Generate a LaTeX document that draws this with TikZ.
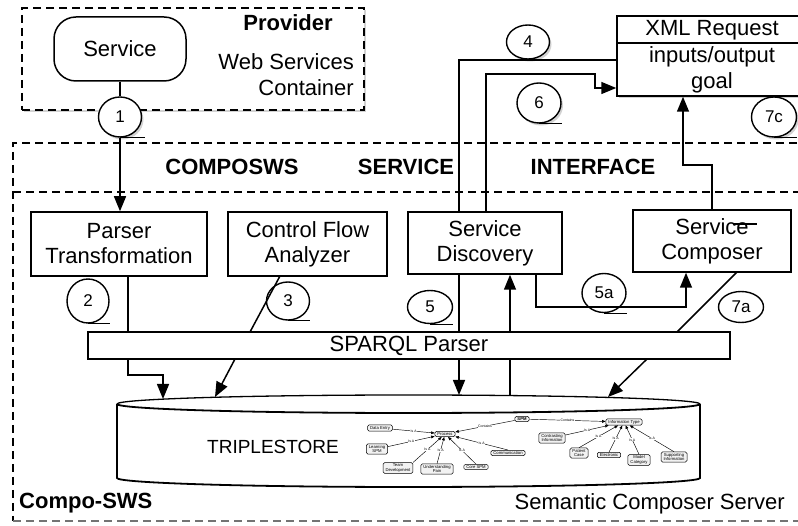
\documentclass[tikz,border=0pt]{standalone}
\usepackage{fontspec}
\setmainfont{Liberation Sans}
\usetikzlibrary{arrows.meta,shapes.geometric,shadows}
\tikzset{
 conline/.style={line width=1.5pt},
 arr/.style={conline, -{Triangle[length=15pt,width=12pt]}},
 box/.style={draw, line width=1.5pt, fill=white, inner sep=0pt, align=center, font=\fontsize{22}{25}\selectfont},
 num/.style={draw, ellipse, line width=1.4pt, fill=white, inner sep=0pt, font=\fontsize{17}{17}\selectfont},
 shad/.style={drop shadow={shadow xshift=2pt, shadow yshift=-2.5pt, opacity=0.35}},
 ctail/.style={line width=1.2pt},
 lbl/.style={font=\fontsize{22}{25}\selectfont, inner sep=0pt},
 blbl/.style={font=\fontsize{22}{25}\selectfont\bfseries, inner sep=0pt},
 dsh/.style={line width=1.4pt, dash pattern=on 8pt off 5pt},
 mini/.style={draw, rounded corners=1.5pt, fill=gray!10, line width=0.5pt, inner xsep=2.5pt, inner ysep=1.2pt, align=center, font=\fontsize{4.2}{4.6}\selectfont},
 minie/.style={line width=0.45pt, -{Triangle[length=3.5pt,width=2.8pt]}},
 minil/.style={font=\fontsize{3.5}{4}\selectfont, fill=white, inner sep=0.4pt},
}
\begin{document}
\begin{tikzpicture}[x=1pt,y=1pt]
\useasboundingbox (0,0) rectangle (798,-526);
\clip (0,0) rectangle (798,-526);
\fill[white] (0,0) rectangle (798,-526);

% outer Compo-SWS box
\draw[dsh] (810,-143) -- (13,-143) -- (13,-521);
\draw[dsh, black!55] (13,-521) -- (810,-521);
\draw[dsh] (13,-192) -- (810,-192);
\node[blbl] (tc) at (232,-167) {COMPOSWS};
\node[blbl] (ts) at (406,-167) {SERVICE};
\node[blbl] (ti) at (593,-167) {INTERFACE};
\node[blbl, anchor=west] (cs) at (19,-503) {Compo-SWS};
\node[lbl, anchor=east] (scs) at (785,-504) {Semantic Composer Server};

% provider
\node[draw, dsh, fill=white, shad, minimum width=342pt, minimum height=102pt, inner sep=0pt] (prov) at (193,-59) {};
\node[box, rounded corners=22pt, minimum width=132pt, minimum height=64pt] (svc) at (120,-49) {Service};
\node[blbl] (provl) at (288,-23) {Provider};
\node[lbl, anchor=east] (ws1) at (354,-62) {Web Services};
\node[lbl, anchor=east] (ws2) at (354,-88) {Container};

% XML request
\node[box, shad, minimum width=190pt, minimum height=80pt] (xml) at (712,-56) {};
\coordinate (xd) at (617,-43);
\draw[conline] (xd) -- (xd -| xml.east);
\node[lbl] (x1) at (712,-30) {XML Request};
\node[lbl] (x2) at (712,-57) {inputs/output};
\node[lbl] (x3) at (712,-83) {goal};

% component boxes
\node[box, minimum width=176pt, minimum height=64pt] (pt) at (119,-244) {Parser\\Transformation};
\node[box, minimum width=159pt, minimum height=64pt] (cfa) at (307.5,-244) {Control Flow\\Analyzer};
\node[box, minimum width=154pt, minimum height=62pt] (sd) at (485,-243) {Service\\Discovery};
\node[box, minimum width=158pt, minimum height=62pt] (sc) at (712,-241) {Service\\Composer};
\draw[ctail] (733,-224) -- (757,-224);
\node[box, minimum width=642pt, minimum height=27pt] (sparql) at (409,-345.5) {SPARQL Parser};

% triplestore cylinder
\fill[white] (117,-404) arc[start angle=180, end angle=0, x radius=291.5pt, y radius=9pt] -- (700,-478) arc[start angle=360, end angle=180, x radius=291.5pt, y radius=9pt] -- cycle;
\draw[line width=1.3pt] (117,-404) arc[start angle=180, end angle=0, x radius=291.5pt, y radius=9pt];
\draw[line width=1.8pt] (117,-404) arc[start angle=180, end angle=360, x radius=291.5pt, y radius=9pt];
\draw[line width=1.8pt] (117,-404) -- (117,-478) arc[start angle=180, end angle=360, x radius=291.5pt, y radius=9pt] -- (700,-404);
\node[font=\fontsize{19}{22}\selectfont, inner sep=0pt] (ts1) at (273,-447) {TRIPLESTORE};

% mini ontology
\node[mini, font=\fontsize{4.2}{4.6}\selectfont\bfseries] (spm) at (522,-419) {SPM};
\node[mini] (proc) at (445,-434) {Process};
\node[mini] (de) at (380,-428) {Data Entry};
\node[mini] (ls) at (377,-449) {Learning\\SPM};
\node[mini] (td) at (398,-468) {Team\\Development};
\node[mini] (up) at (437,-469) {Understanding\\Pain};
\node[mini] (cspm) at (476,-467) {Core SPM};
\node[mini] (com) at (508,-453) {Communication};
\node[mini] (it) at (624,-422) {Information Type};
\node[mini] (ci) at (552,-438) {Contrasting\\Information};
\node[mini] (pc) at (579,-453) {Patient\\Case};
\node[mini] (el) at (609,-455) {Electronic};
\node[mini] (mc) at (639,-460) {Model\\Category};
\node[mini] (si) at (674,-457) {Supporting\\Information};
\draw[minie] (spm) -- node[minil]{Contains} (proc);
\draw[minie] (spm) -- node[minil]{Contains} (it);
\draw[minie] (de) -- node[minil]{Is A} (proc);
\draw[minie] (ls) -- node[minil]{Is A} (proc);
\draw[minie] (td.north east) -- node[minil]{Is A} (proc);
\draw[minie] (up.north) -- node[minil]{Is A} (proc);
\draw[minie] (cspm.north) -- node[minil]{Is A} (proc);
\draw[minie] (com.north) -- node[minil]{Is A} (proc);
\draw[minie] (ci) -- node[minil]{Is A} (it);
\draw[minie] (pc.north) -- node[minil]{Is A} (it);
\draw[minie] (el.north) -- node[minil]{Is A} (it);
\draw[minie] (mc.north) -- node[minil]{Is A} (it);
\draw[minie] (si.north) -- node[minil]{Is A} (it);

% numbered circles
\node[num, shad, minimum width=43pt, minimum height=40pt] (c1) at (120,-117) {1};
\node[num, minimum width=42pt, minimum height=44pt] (c2) at (88,-301) {2};
\node[num, minimum width=43pt, minimum height=38pt] (c3) at (288,-301) {3};
\node[num, shad, minimum width=43pt, minimum height=34pt] (c4) at (528,-42) {4};
\node[num, minimum width=45pt, minimum height=33pt] (c5) at (430,-307) {5};
\node[num, minimum width=44pt, minimum height=39pt] (c5a) at (604,-293) {5a};
\node[num, shad, minimum width=44pt, minimum height=40pt] (c6) at (539,-103) {6};
\node[num, minimum width=45pt, minimum height=31pt] (c7a) at (741,-307) {7a};
\node[num, shad, minimum width=45pt, minimum height=40pt] (c7c) at (774,-117) {7c};
\draw[ctail] (c1.south) -- ++(25,0);
\draw[ctail] (c2.south) -- ++(22,0);
\draw[ctail] (c3.south) -- ++(22,0);
\draw[ctail] (c4.south) -- ++(22,0);
\draw[ctail] (c5.south) -- ++(23,0);
\draw[ctail] (c5a.south) -- ++(23,0);
\draw[ctail] (c6.south) -- ++(23,0);
\draw[ctail] (c7c.south) -- ++(23,0);

% connectors
\draw[conline] (svc.south) -- (c1.north);
\draw[arr] (c1.south) -- (c1.south |- pt.north);
% parser -> store
\coordinate (q1) at (128,-375);
\coordinate (q2) at (163,-375);
\coordinate (t1) at (163,-399);
\draw[conline] (q1 |- pt.south) -- (q1 |- sparql.north);
\draw[arr] (q1 |- sparql.south) -- (q1) -- (q2) -- (t1);
% cfa -> store
\coordinate (a1) at (280,-276);
\coordinate (a2) at (250,-332);
\coordinate (a3) at (235,-359);
\coordinate (t2) at (215,-397);
\draw[conline] (a1) -- (a2);
\draw[arr] (a3) -- (t2);
% discovery -> store (5)
\coordinate (t3) at (459,-395);
\draw[conline] (t3 |- sd.south) -- (t3 |- sparql.north);
\draw[arr] (t3 |- sparql.south) -- (t3);
% store -> discovery
\coordinate (t4) at (510,-396);
\draw[conline] (t4) -- (t4 |- sparql.south);
\draw[arr] (t4 |- sparql.north) -- (t4 |- sd.south);
% 5a
\coordinate (q5) at (536,-307);
\coordinate (q5b) at (686,-307);
\draw[arr] (q5 |- sd.south) -- (q5) -- (q5b) -- (q5b |- sc.south);
% 7a
\coordinate (b1) at (737,-272);
\coordinate (b2) at (677,-332);
\coordinate (b3) at (647,-359);
\coordinate (t5) at (608,-397);
\draw[conline] (b1) -- (b2);
\draw[arr] (b3) -- (t5);
% 4
\coordinate (p4) at (459,-60);
\draw[conline] (p4 |- sd.north) -- (p4) -- (p4 -| xml.west);
% 6
\coordinate (p6) at (486,-74);
\coordinate (p6b) at (595,-88);
\draw[arr] (p6 |- sd.north) -- (p6) -- (p6 -| p6b) -- (p6b) -- (p6b -| xml.west);
% 7c
\coordinate (p7) at (683,-165);
\draw[arr] (sc.north) |- (p7) -- (p7 |- xml.south);
\end{tikzpicture}
\end{document}
